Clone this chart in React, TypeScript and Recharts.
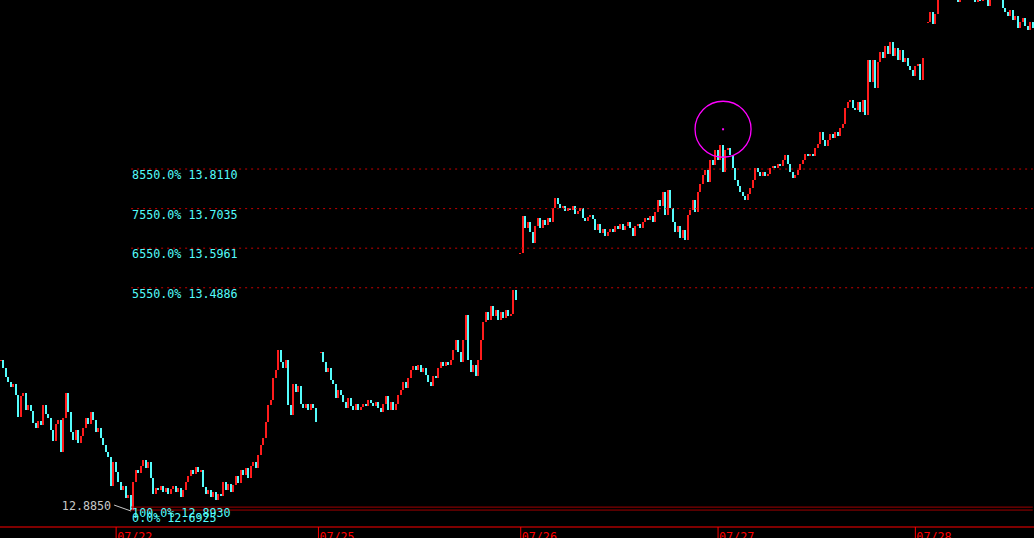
import React from "react";
import { ComposedChart, Bar, XAxis, YAxis, ReferenceLine, ReferenceDot } from "recharts";

// Close prices per session (null = session break)
const preCloses = [
  13.292, 13.270, 13.246, 13.232, 13.219, 13.227, 13.197, 13.138, 13.194, 13.202,
  13.157, 13.170, 13.154, 13.122, 13.108, 13.127, 13.116, 13.170, 13.146, 13.135,
  13.103, 13.073, 13.119, 13.130, 13.043, 13.135, 13.202, 13.151, 13.097, 13.075,
  13.103, 13.067, 13.086, 13.108, 13.135, 13.119, 13.151, 13.130, 13.097, 13.108,
  13.081, 13.062, 13.043, 13.029, 12.950, 13.016,
];
const jul22Closes = [
  12.988, 12.961, 12.940, 12.950, 12.918, 12.926, 12.885, 12.961, 12.994, 12.986,
  13.005, 13.021, 12.999, 13.016, 12.972, 12.929, 12.945, 12.940, 12.950, 12.934,
  12.945, 12.929, 12.942, 12.950, 12.934, 12.945, 12.921, 12.940, 12.961, 12.978,
  12.994, 12.983, 13.002, 12.988, 12.994, 12.948, 12.929, 12.940, 12.921, 12.934,
  12.912, 12.929, 12.923, 12.961, 12.940, 12.956, 12.934, 12.953, 12.978, 12.959,
  12.994, 12.980, 12.999, 12.972, 13.005, 13.016, 12.999, 13.035, 13.062, 13.081,
  13.124, 13.170, 13.184, 13.243, 13.265, 13.319, 13.287, 13.270, 13.292, 13.170,
  13.143, 13.227, 13.205, 13.221, 13.173, 13.162, 13.173, 13.157, 13.173, 13.162, 13.124,
];
const jul25Closes = [
  null,
  13.314, 13.287, 13.259, 13.270, 13.238, 13.227, 13.189, 13.211, 13.197, 13.179,
  13.162, 13.189, 13.168, 13.157, 13.173, 13.157, 13.165, 13.173, 13.168, 13.184,
  13.176, 13.168, 13.179, 13.162, 13.151, 13.173, 13.194, 13.157, 13.179, 13.157,
  13.173, 13.197, 13.211, 13.232, 13.216, 13.243, 13.265, 13.276, 13.265, 13.278,
  13.259, 13.270, 13.251, 13.232, 13.221, 13.249, 13.243, 13.270, 13.287, 13.276,
  13.287, 13.278, 13.292, 13.319, 13.346, 13.314, 13.287, 13.346, 13.414, 13.292,
  13.259, 13.278, 13.249, 13.292, 13.346, 13.395, 13.422, 13.401, 13.439, 13.412,
  13.428, 13.401, 13.422, 13.406, 13.428, 13.412, 13.417, 13.483, 13.455,
  null,
];
const jul26Closes = [
  13.583, 13.684, 13.651, 13.667, 13.640, 13.610, 13.656, 13.678, 13.651, 13.673,
  13.659, 13.678, 13.667, 13.705, 13.732, 13.716, 13.705, 13.711, 13.697, 13.705,
  13.700, 13.711, 13.689, 13.697, 13.705, 13.678, 13.670, 13.681, 13.686, 13.675,
  13.646, 13.662, 13.637, 13.648, 13.629, 13.640, 13.648, 13.640, 13.656, 13.648,
  13.662, 13.646, 13.656, 13.667, 13.651, 13.629, 13.656, 13.662, 13.651, 13.667,
  13.678, 13.673, 13.684, 13.667, 13.694, 13.727, 13.711, 13.748, 13.686, 13.754,
  13.705, 13.667, 13.640, 13.656, 13.624, 13.646, 13.618, 13.686, 13.700, 13.727,
  13.694, 13.748, 13.770, 13.794, 13.808, 13.775, 13.835, 13.821, 13.862,
];
const jul27Closes = [
  13.835, 13.876, 13.802, 13.862, 13.868, 13.849, 13.813, 13.781, 13.764, 13.748,
  13.737, 13.727, 13.743, 13.759, 13.781, 13.813, 13.802, 13.792, 13.802, 13.792,
  13.797, 13.813, 13.819, 13.813, 13.824, 13.819, 13.835, 13.849, 13.824, 13.802,
  13.786, 13.794, 13.808, 13.824, 13.835, 13.851, 13.846, 13.851, 13.846, 13.868,
  13.878, 13.911, 13.889, 13.873, 13.889, 13.906, 13.895, 13.911, 13.900, 13.922,
  13.933, 13.976, 13.993, 13.998, 13.976, 13.971, 13.993, 13.965, 13.998, 13.957,
  14.107, 14.047, 14.107, 14.031, 14.102, 14.129, 14.112, 14.145, 14.123, 14.156,
  14.118, 14.140, 14.107, 14.134, 14.102, 14.112, 14.091, 14.080, 14.064,
];
const jul28Closes = [
  14.091, 14.096, 14.053, 14.112,
  null,
  14.210, 14.237, 14.205, 14.232, 14.297, 14.351, 14.324, 14.379, 14.338, 14.365,
  14.311, 14.284, 14.265, 14.297, 14.338, 14.324, 14.351, 14.311, 14.292, 14.265,
  14.281, 14.267, 14.286, 14.281, 14.254, 14.311, 14.338, 14.324, 14.297, 14.275,
  14.248, 14.237, 14.227, 14.243, 14.216, 14.227, 14.194, 14.210, 14.221, 14.199, 14.189, 14.210, 14.194,
];

const dateLabels = ["07/22", "07/25", "07/26", "07/27", "07/28"];
const sessions = [preCloses, jul22Closes, jul25Closes, jul26Closes, jul27Closes, jul28Closes];

const fibLabels = ["8550.0%", "7550.0%", "6550.0%", "5550.0%", "100.0%", "0.0%"];
const fibValues = [13.811, 13.7035, 13.5961, 13.4886, 12.893, 12.6925];

const lowPrice = 12.885;
const priceDomain = [12.839, 14.27];
const markerIndex = 289;
const markerPrice = 13.919;
const fibStartIndex = 52;

// ---- build table ----
const closes: (number | null)[] = ([] as (number | null)[]).concat(...sessions);
const rows = closes.map((c, i) => {
  const prev = i > 0 ? closes[i - 1] : null;
  const open = c == null ? null : prev == null ? c : prev;
  return { i, close: c, open };
});
const tickIdx: number[] = [];
{
  let acc = 0;
  for (let s = 0; s < sessions.length - 1; s++) {
    acc += sessions[s].length;
    tickIdx.push(acc);
  }
}
const lastIndex = rows.length - 1;
let lowIndex = 0;
closes.forEach((c, i) => {
  if (c != null && c < (closes[lowIndex] as number)) lowIndex = i;
});

const UP = "#ff1c1c";
const DOWN = "#54fcfc";
const MONO = "'DejaVu Sans Mono', 'Liberation Mono', monospace";

const CandleShape = (props: any) => {
  const { x, y, width, height, payload } = props;
  if (!payload || payload.close == null) return <g />;
  const up = payload.close >= payload.open;
  const x0 = Math.round(x);
  const w = Math.max(2, Math.round(x + width) - x0);
  let h = Math.round(height);
  const yy = Math.round(y);
  if (h < 1) h = 1;
  return <rect x={x0} y={yy} width={w} height={h} fill={up ? UP : DOWN} />;
};

const DateTick = (props: any) => {
  const { x, y, payload } = props;
  const k = tickIdx.indexOf(payload.value);
  return (
    <text x={x + 1} y={y + 3} fill="#ff0000" fontFamily={MONO} fontSize={11.7}>
      {dateLabels[k]}
    </text>
  );
};

const makeFibLabel = (k: number) => (props: any) => {
  const { cx, cy } = props;
  return (
    <text x={cx + 1} y={cy + (k === 5 ? 12 : 10)} fill={DOWN} fontFamily={MONO} fontSize={11.7}>
      {fibLabels[k] + " " + fibValues[k].toFixed(4)}
    </text>
  );
};

const LowShape = (props: any) => {
  const { cx, cy } = props;
  return (
    <g>
      <line x1={cx - 17} y1={cy - 5} x2={cx} y2={cy + 1} stroke="#c8c8c8" strokeWidth={1} />
      <text x={cx - 20} y={cy} textAnchor="end" fill="#c8c8c8" fontFamily={MONO} fontSize={11.7}>
        {lowPrice.toFixed(4)}
      </text>
    </g>
  );
};

const MarkerShape = (props: any) => {
  const { cx, cy } = props;
  return (
    <g>
      <circle cx={cx} cy={cy} r={28} fill="none" stroke="#ff00ff" strokeWidth={1.3} />
      <rect x={cx - 1} y={cy - 1} width={2} height={2} fill="#ff00ff" />
    </g>
  );
};

export default function App() {
  const fibLinePrices = fibValues.map((v) => Math.max(v, lowPrice));
  return (
    <div
      style={{
        position: "fixed",
        left: 0,
        top: 0,
        width: 1034,
        height: 538,
        background: "#000",
        overflow: "hidden",
      }}
    >
      <ComposedChart
        width={1034}
        height={538}
        data={rows}
        margin={{ top: 0, right: 0, bottom: 0, left: 0 }}
        barCategoryGap={0}
        barGap={0}
      >
        <XAxis
          dataKey="i"
          type="category"
          ticks={tickIdx}
          interval={0}
          height={11}
          tickSize={11}
          tickMargin={0}
          axisLine={{ stroke: "#ff0000" }}
          tickLine={{ stroke: "#ff0000" }}
          tick={<DateTick />}
        />
        <YAxis hide type="number" domain={priceDomain} allowDataOverflow />
        {fibLinePrices.map((p, k) => (
          <ReferenceLine
            key={"l" + k}
            segment={[
              { x: fibStartIndex, y: p },
              { x: lastIndex, y: p },
            ]}
            stroke={k < 4 ? "#c80000" : "#a00000"}
            strokeDasharray={k < 4 ? "2 4" : undefined}
            strokeWidth={1}
          />
        ))}
        <Bar
          dataKey={(d: any) =>
            d.close == null ? null : [Math.min(d.open, d.close), Math.max(d.open, d.close)]
          }
          shape={<CandleShape />}
          isAnimationActive={false}
        />
        {fibLinePrices.map((p, k) => (
          <ReferenceDot key={"t" + k} x={fibStartIndex} y={p} r={0} shape={makeFibLabel(k)} />
        ))}
        <ReferenceDot x={lowIndex} y={lowPrice} shape={LowShape} />
        <ReferenceDot x={markerIndex} y={markerPrice} shape={MarkerShape} />
      </ComposedChart>
    </div>
  );
}
